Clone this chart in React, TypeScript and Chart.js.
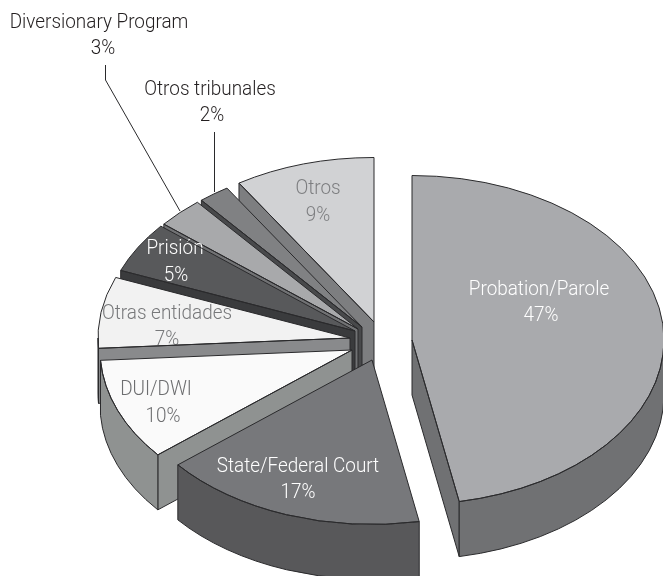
import React, { useEffect, useRef } from "react";
import { Chart, registerables } from "chart.js";

Chart.register(...registerables);

const categories = ["Probation/Parole", "State/Federal Court", "DUI/DWI", "Otras entidades", "Prisión", "Diversionary Program", "Otros tribunales", "Otros"];
const shares = [47, 17, 10, 7, 5, 3, 2, 9];

const topColors = ["#a9aaad", "#77787b", "#fafafa", "#f2f2f2", "#58595b", "#a8a9ab", "#808183", "#d1d2d4"];
const wallColors = ["#707173", "#58585a", "#8f9291", "#898a8c", "#3a3b3d", "#717274", "#48494b", "#7d7e80"];
const labelColors = ["#ffffff", "#ffffff", "#6d6e70", "#77787a", "#ffffff", "#231f20", "#231f20", "#7d7e80"];

// Where each exploded slice's apex lands on the page.
const apexX = [412, 372, 352, 350, 355, 358, 362, 374];
const apexY = [340, 360, 350, 338, 331, 329, 327, 322];
// Label anchor: centre x and baseline y for the name and percent rows.
const nameX = [539, 298, 156, 167, 175, 99, 210, 318];
const nameY = [295, 472, 395, 319, 254, 28, 95, 194];
const pctX = [541, 298, 163, 167, 176, 103, 212, 318];
const pctY = [321, 498, 422, 345, 281, 54, 121, 221];

const RX = 252;
const RY = 164.5;
const DEPTH = 55;
const LINE = "#2a2a2c";
const FONT = '300 21px "Roboto", "Lato", sans-serif';
const TEXT_SQUEEZE = 0.9;
const DRAW_ORDER = [7, 6, 5, 4, 3, 2, 1, 0];

function squeezedText(ctx: CanvasRenderingContext2D, text: string, x: number, y: number) {
  ctx.save();
  ctx.translate(x, y);
  ctx.scale(TEXT_SQUEEZE, 1);
  ctx.fillText(text, 0, 0);
  ctx.restore();
}

const pie3d = {
  id: "pie3d",
  beforeDatasetsDraw(chart: any) {
    const ctx: CanvasRenderingContext2D = chart.ctx;
    const arcs = chart.getDatasetMeta(0).data;
    ctx.save();
    ctx.lineJoin = "round";
    ctx.lineWidth = 1;
    ctx.strokeStyle = LINE;

    for (const i of DRAW_ORDER) {
      const arc = arcs[i];
      const cx = apexX[i];
      const cy = apexY[i];
      const a0 = arc.startAngle;
      const a1 = arc.endAngle;
      const aMid = (a0 + a1) / 2;
      const at = (a: number) => [cx + RX * Math.cos(a), cy + RY * Math.sin(a)];

      // top face, through the library's own arc element
      ctx.save();
      ctx.translate(cx, cy);
      ctx.scale(RX / arc.outerRadius, RY / arc.outerRadius);
      ctx.translate(-arc.x, -arc.y);
      arc.draw(ctx);
      ctx.restore();

      // in-slice label, under the walls so the walls may cut it
      const inside = i !== 5 && i !== 6;
      const label = () => {
        ctx.font = FONT;
        ctx.textAlign = "center";
        ctx.textBaseline = "alphabetic";
        ctx.fillStyle = labelColors[i];
        squeezedText(ctx, categories[i], nameX[i], nameY[i]);
        squeezedText(ctx, `${shares[i]}%`, pctX[i], pctY[i]);
      };
      if (inside) label();

      // cut faces that look toward the viewer
      const mid = at(aMid);
      for (const a of [a0, a1]) {
        const p = at(a);
        const dx = p[0] - cx;
        if (Math.abs(dx) < 0.5) continue;
        const yOnLine = cy + ((p[1] - cy) * (mid[0] - cx)) / dx;
        if (mid[1] < yOnLine) {
          ctx.beginPath();
          ctx.moveTo(cx, cy);
          ctx.lineTo(p[0], p[1]);
          ctx.lineTo(p[0], p[1] + DEPTH);
          ctx.lineTo(cx, cy + DEPTH);
          ctx.closePath();
          ctx.fillStyle = wallColors[i];
          ctx.fill();
          ctx.stroke();
        }
      }

      // outer curved wall (lower half of the ellipse only)
      const s = Math.max(a0, 0);
      const e = Math.min(a1, Math.PI);
      if (e > s) {
        ctx.beginPath();
        ctx.ellipse(cx, cy, RX, RY, 0, s, e);
        ctx.ellipse(cx, cy + DEPTH, RX, RY, 0, e, s, true);
        ctx.closePath();
        ctx.fillStyle = wallColors[i];
        ctx.fill();
        ctx.stroke();
      }

      // outline of the top face
      ctx.beginPath();
      ctx.moveTo(cx, cy);
      ctx.ellipse(cx, cy, RX, RY, 0, a0, a1);
      ctx.closePath();
      ctx.stroke();

      if (!inside) label();
    }

    // leader lines
    ctx.strokeStyle = LINE;
    ctx.beginPath();
    ctx.moveTo(105.5, 65);
    ctx.lineTo(105.5, 80);
    ctx.lineTo(180, 211);
    ctx.moveTo(214.5, 132);
    ctx.lineTo(214.5, 192);
    ctx.stroke();

    ctx.restore();
    return false;
  },
};

export default function App() {
  const ref = useRef<HTMLCanvasElement>(null);
  useEffect(() => {
    const chart = new Chart(ref.current!, {
      type: "pie",
      data: {
        labels: categories,
        datasets: [{ data: shares, backgroundColor: topColors, borderWidth: 0 }],
      },
      options: {
        responsive: false,
        animation: false,
        events: [],
        layout: { padding: 0 },
        plugins: { legend: { display: false }, tooltip: { enabled: false } },
      },
      plugins: [pie3d],
    } as any);
    return () => chart.destroy();
  }, []);
  return (
    <div style={{ position: "absolute", left: 0, top: 0, width: 663, height: 576, background: "#fff" }}>
      <canvas ref={ref} width={663} height={576} style={{ display: "block" }} />
    </div>
  );
}
